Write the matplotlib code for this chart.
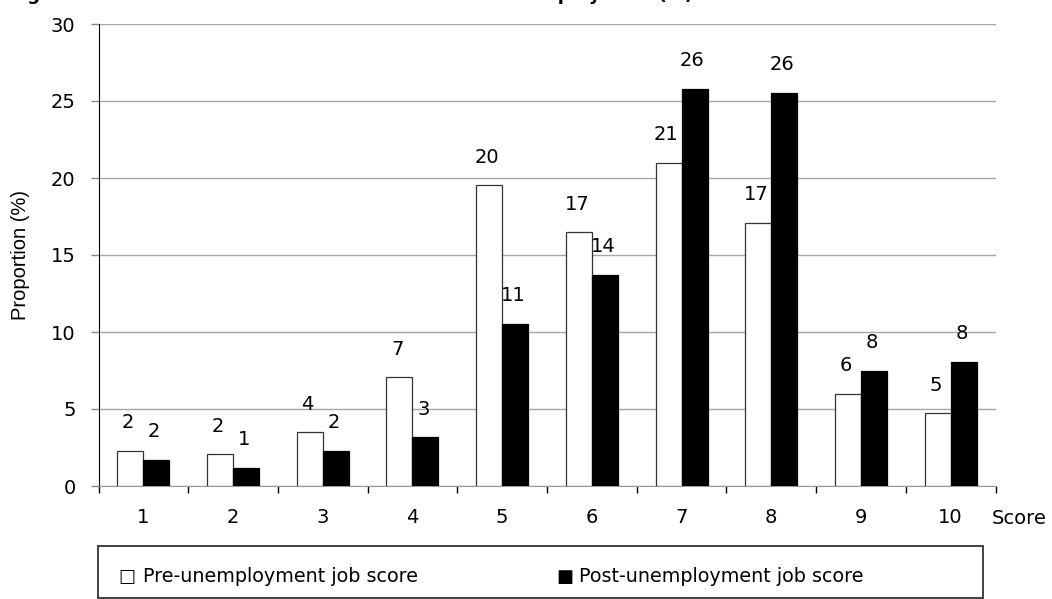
import numpy as np
import matplotlib
matplotlib.use("Agg")
from matplotlib import pyplot as plt
from matplotlib.patches import Rectangle

# the source picture is stretched sideways, the wider DejaVu Sans fits it best
plt.rcParams['font.family'] = ['DejaVu Sans']

scores = [1, 2, 3, 4, 5, 6, 7, 8, 9, 10]
pre = [2.3, 2.05, 3.5, 7.05, 19.55, 16.5, 21.0, 17.1, 6.0, 4.75]
post = [1.7, 1.2, 2.3, 3.15, 10.5, 13.7, 25.8, 25.55, 7.45, 8.05]
pre_lbl = ["2", "2", "4", "7", "20", "17", "21", "17", "6", "5"]
post_lbl = ["2", "1", "2", "3", "11", "14", "26", "26", "8", "8"]

W, H = 1052, 599
fig = plt.figure(figsize=(W / 100, H / 100), dpi=100)
ax = fig.add_axes([98.5 / W, 1 - 486 / H, 897 / W, 462 / H])

x = np.array(scores)
bw = 0.29
ax.bar(x - bw / 2, pre, bw, color="white", edgecolor="#333333", linewidth=0.9, zorder=3)
ax.bar(x + bw / 2, post, bw, color="black", edgecolor="black", linewidth=0.9, zorder=3)

for xi, v, t in zip(x, pre, pre_lbl):
    ax.annotate(t, (xi - bw / 2, v), xytext=(-1.5, 20), textcoords="offset points",
                ha="center", va="center", fontsize=14)
for xi, v, t in zip(x, post, post_lbl):
    ax.annotate(t, (xi + bw / 2, v), xytext=(-1.5, 20.5), textcoords="offset points",
                ha="center", va="center", fontsize=14)

ax.set_xlim(0.5, 10.5)
ax.set_ylim(0, 30)
ax.set_yticks(range(0, 31, 5))
ax.yaxis.grid(True, color="#a6a6a6", linewidth=1)
ax.set_axisbelow(True)
ax.tick_params(axis="y", length=5.5, width=1, color="#888888", labelsize=14, pad=11)

# category ticks at the boundaries, labels at the centres
ax.set_xticks(np.arange(0.5, 11, 1))
ax.set_xticklabels([])
ax.set_xticks(x, minor=True)
ax.set_xticklabels([str(s) for s in scores], minor=True)
ax.tick_params(axis="x", which="major", length=5, width=1, color="black")
ax.tick_params(axis="x", which="minor", length=0, labelsize=14, pad=16)

for s in ["top", "right"]:
    ax.spines[s].set_visible(False)
ax.spines["left"].set_color("black")
ax.spines["bottom"].set_color("#999999")

fig.text(21 / W, 1 - 255 / H, "Proportion (%)", fontsize=14.5, rotation=90,
         ha="center", va="center", family="Liberation Sans")
fig.text(1019 / W, 1 - 518 / H, "Score", fontsize=14, ha="center", va="center")

# legend box
fig.patches.append(Rectangle((98 / W, 1 / H), 885 / W, 52 / H, transform=fig.transFigure,
                             fill=False, edgecolor="#333333", linewidth=1.3))
fig.text(127 / W, 1 - 577 / H, "\u25a1", fontsize=13, ha="center", va="center")
fig.text(143 / W, 1 - 577 / H, "Pre-unemployment job score", fontsize=13.8, va="center")
fig.text(565 / W, 1 - 577 / H, "\u25a0", fontsize=13, ha="center", va="center")
fig.text(579 / W, 1 - 577 / H, "Post-unemployment job score", fontsize=13.8, va="center")

# title, mostly cut off by the top edge as in the source
fig.text(693 / W, 1 + 0.5 / H, "Figure 3: Distribution of scores before and after unemployment (%)",
         fontsize=12.9, fontweight="bold", ha="right", va="baseline")

fig.savefig("out.png", dpi=100)
